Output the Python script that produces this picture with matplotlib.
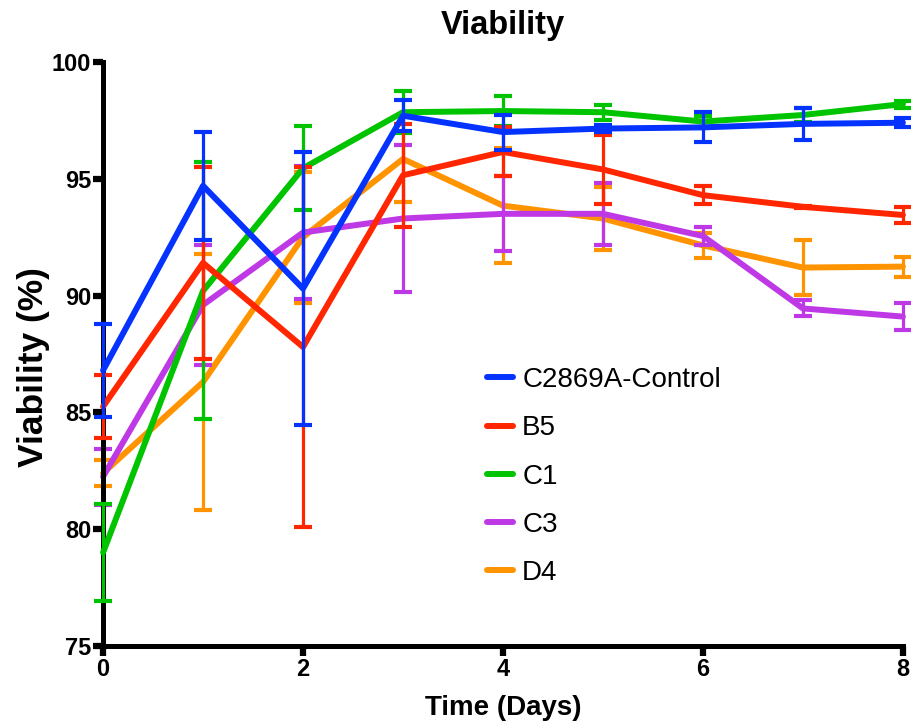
import matplotlib
matplotlib.use("Agg")
import matplotlib.pyplot as plt

plt.rcParams['font.family'] = ['Liberation Sans', 'DejaVu Sans']

days = [0, 1, 2, 3, 4, 5, 6, 7, 8]

control = [86.8, 94.7, 90.3, 97.7, 97.0, 97.15, 97.2, 97.35, 97.4]
control_err = [2.0, 2.3, 5.85, 0.67, 0.75, 0.15, 0.64, 0.7, 0.2]

b5 = [85.25, 91.4, 87.8, 95.15, 96.15, 95.4, 94.3, 93.8, 93.45]
b5_err = [1.35, 4.1, 7.7, 2.2, 1.05, 1.48, 0.37, 0.05, 0.35]

c1 = [79.0, 90.2, 95.45, 97.85, 97.9, 97.85, 97.45, 97.73, 98.2]
c1_err = [2.07, 5.5, 1.8, 0.9, 0.64, 0.33, 0.25, 0.3, 0.15]

c3 = [82.25, 89.6, 92.7, 93.3, 93.5, 93.5, 92.55, 89.45, 89.1]
c3_err = [1.2, 2.57, 2.85, 3.13, 1.6, 1.32, 0.4, 0.34, 0.57]

d4 = [82.4, 86.3, 92.5, 95.85, 93.85, 93.3, 92.15, 91.2, 91.24]
d4_err = [0.57, 5.5, 2.8, 1.85, 2.45, 1.33, 0.55, 1.17, 0.43]

series = [
    ("C2869A-Control", control, control_err, "#0433ff", 5),
    ("B5", b5, b5_err, "#ff2600", 4),
    ("C1", c1, c1_err, "#00c400", 3),
    ("C3", c3, c3_err, "#bf38e6", 2),
    ("D4", d4, d4_err, "#ff9300", 1),
]

fig = plt.figure(figsize=(9.12, 7.25), dpi=100)
ax = fig.add_axes([0.113, 0.109, 0.877, 0.8055])

for name, vals, errs, color, z in series:
    eb = ax.errorbar(days, vals, yerr=errs, color=color, lw=4.3, elinewidth=2.3,
                     capsize=6.5, capthick=3, label=name, zorder=z)
    line, caps, bars = eb.lines
    line.set_clip_on(False)
    line.set_solid_joinstyle('round')
    line.set_solid_capstyle('round')
    for c in caps:
        c.set_clip_on(False)
    for b in bars:
        b.set_clip_on(False)

ax.set_xlim(0, 8)
ax.set_ylim(75, 100)
ax.set_xticks([0, 2, 4, 6, 8])
ax.set_yticks([75, 80, 85, 90, 95, 100])

for side in ['top', 'right']:
    ax.spines[side].set_visible(False)
for side in ['left', 'bottom']:
    ax.spines[side].set_linewidth(3.6)
ax.tick_params(width=4.5, length=7, labelsize=17, pad=1.5)
for lab in ax.get_xticklabels() + ax.get_yticklabels():
    lab.set_fontweight('bold')

ax.set_title("Viability", fontsize=23.5, fontweight='bold', pad=20)
ax.set_xlabel("Time (Days)", fontsize=20, fontweight='bold', labelpad=10)
ax.set_ylabel("Viability (%)", fontsize=25.5, fontweight='bold')
ax.yaxis.set_label_coords(-0.066, 0.477)

handles, labels = ax.get_legend_handles_labels()
handles = [h[0] for h in handles]
ax.legend(handles, labels, loc='center left', bbox_to_anchor=(0.48, 0.29),
          frameon=False, fontsize=20, handlelength=0.95, handletextpad=0.32,
          labelspacing=0.8, borderpad=0, borderaxespad=0)

fig.savefig("out.png", dpi=100)
